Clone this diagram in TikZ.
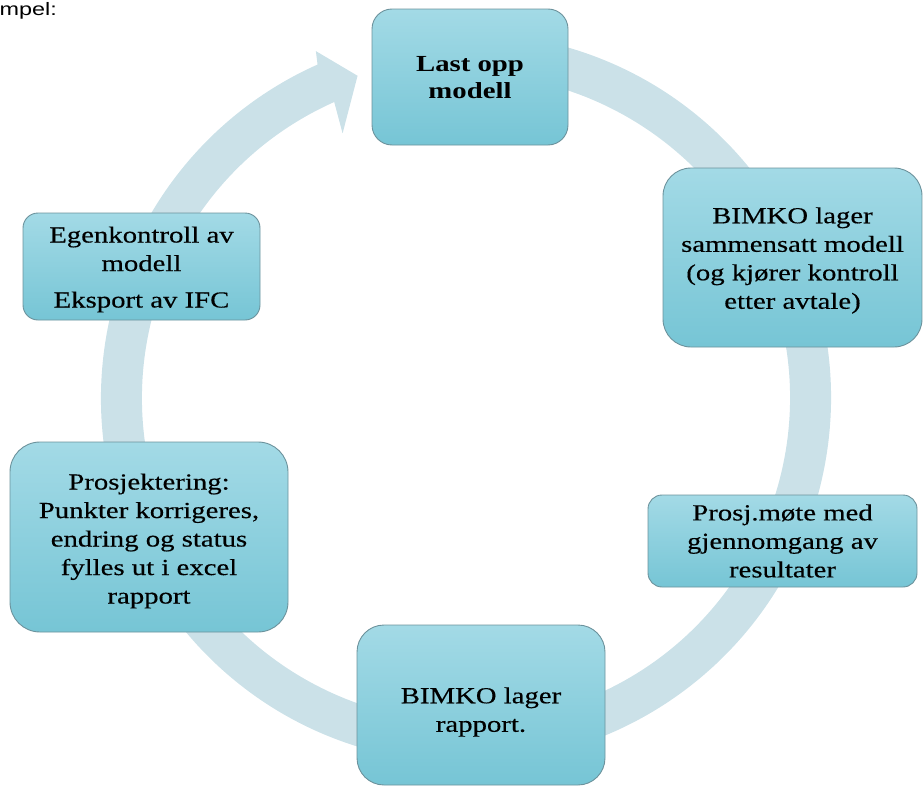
\documentclass[tikz,border=0pt]{standalone}
\usepackage{fontspec}
\setmainfont{Liberation Serif}[FakeStretch=1.25, UprightFeatures={FakeBold=0.35}]
\newfontfamily\arialf{Liberation Sans}[FakeStretch=1.3]
\usetikzlibrary{calc}
\definecolor{ringc}{RGB}{203,225,232}
\definecolor{boxtop}{RGB}{163,218,230}
\definecolor{boxbot}{RGB}{118,197,213}
\definecolor{boxline}{RGB}{108,146,156}
\begin{document}
\begin{tikzpicture}[x=1pt,y=-1pt,
  box/.style={draw=boxline, line width=0.9pt, top color=boxtop, bottom color=boxbot, inner sep=0pt},
  boxtext/.style={inner sep=0pt, align=center, text=black, font=\fontsize{23}{28.5}\selectfont},
]
\useasboundingbox (0,0) rectangle (924,787);
\coordinate (C) at (466,398);
% cycle ring with arrowhead
\fill[ringc] ($(C)+(-80:365)$) arc[start angle=-80, end angle=246, radius=365]
  -- ($(C)+(246.6:378)$) -- ($(C)+(251.4:340)$) -- ($(C)+(245:292)$)
  -- ($(C)+(246:324)$) arc[start angle=246, end angle=-80, radius=324] -- cycle;
% label at top left
\node[font=\arialf\fontsize{18}{20}\selectfont, anchor=base east, inner sep=0pt] (lbl) at (57,16) {mpel:};
% boxes
\node[box, rounded corners=20pt, minimum width=196pt, minimum height=136pt] (n1) at (470,77) {};
\node[boxtext, font=\bfseries\fontsize{23}{27}\selectfont] (t1) at ([yshift=-1pt]n1.center) {Last opp\\modell};
\node[box, rounded corners=28pt, minimum width=259pt, minimum height=179pt] (n2) at (792.5,257.5) {};
\node[boxtext] (t2) at ([yshift=-3pt]n2.center) {BIMKO lager\\sammensatt modell\\(og kjører kontroll\\etter avtale)};
\node[box, rounded corners=14pt, minimum width=269pt, minimum height=92pt] (n3) at (782.5,541) {};
\node[boxtext] (t3) at (n3.center) {Prosj.møte med\\gjennomgang av\\resultater};
\node[box, rounded corners=27pt, minimum width=248pt, minimum height=160pt] (n4) at (481,705) {};
\node[boxtext] (t4) at ([yshift=-7pt]n4.center) {BIMKO lager\\rapport.};
\node[box, rounded corners=30pt, minimum width=278pt, minimum height=190pt] (n5) at (149,537) {};
\node[boxtext] (t5) at ([yshift=-4pt]n5.center) {Prosjektering:\\Punkter korrigeres,\\endring og status\\fylles ut i excel\\rapport};
\node[box, rounded corners=15pt, minimum width=237pt, minimum height=107pt] (n6) at (141.5,266.5) {};
\node[boxtext] (t6) at ([yshift=-3pt]n6.center) {Egenkontroll av\\modell\\[8pt]Eksport av IFC};
\end{tikzpicture}
\end{document}
